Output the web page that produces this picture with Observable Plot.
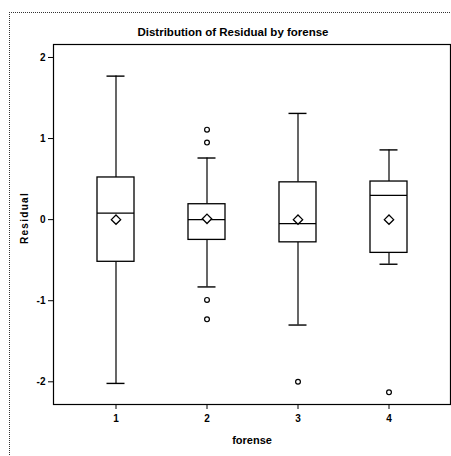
<!DOCTYPE html>
<html>
<head>
<meta charset="utf-8">
<script src="https://cdn.jsdelivr.net/npm/d3@7"></script>
<script src="https://cdn.jsdelivr.net/npm/@observablehq/plot@0.6"></script>
<style>
  html, body { margin: 0; padding: 0; background: #fff; }
  #wrap { position: relative; width: 451px; height: 456px; overflow: hidden; background: #fff;
          font-family: "Liberation Sans", Arial, sans-serif; color: #000; }
  #frame { position: absolute; left: 9px; top: 12px; width: 460px; height: 460px;
           border-top: 1px dotted #333; border-left: 1px dotted #333; }
  .lbl { position: absolute; font-weight: bold; white-space: nowrap; transform: translate(-50%, -50%); }
  #plot { position: absolute; left: 0; top: 0; }
</style>
</head>
<body>
<div id="wrap">
  <div id="frame"></div>
  <div id="plot"></div>
  <div class="lbl" style="left:233px; top:32px; font-size:11.5px;">Distribution of Residual by forense</div>
  <div class="lbl" style="left:23.5px; top:218px; font-size:10px; letter-spacing:1.3px; transform: translate(-50%,-50%) rotate(-90deg);">Residual</div>
  <div class="lbl" style="left:252px; top:440px; font-size:11px;">forense</div>
</div>
<script>
// Categories
const forense = [1, 2, 3, 4];
// Box statistics per category
const q1 = [-0.52, -0.25, -0.28, -0.41];
const median = [0.08, 0.00, -0.05, 0.30];
const q3 = [0.52, 0.19, 0.46, 0.47];
const whiskerLow = [-2.02, -0.83, -1.30, -0.55];
const whiskerHigh = [1.77, 0.76, 1.31, 0.86];
const mean = [0.00, 0.01, 0.00, 0.00];
// Outliers
const outlierGroup = [2, 2, 2, 2, 3, 4];
const outlierValue = [1.11, 0.95, -0.99, -1.23, -2.00, -2.13];
// Tick labels
const yTicks = [2, 1, 0, -1, -2];
const yTickLabels = ["2", "1", "0", "-1", "-2"];
const xTickLabels = ["1", "2", "3", "4"];

const boxes = forense.map((f, i) => ({
  f, q1: q1[i], med: median[i], q3: q3[i], lo: whiskerLow[i], hi: whiskerHigh[i], mean: mean[i]
}));
const outliers = outlierGroup.map((f, i) => ({f, v: outlierValue[i]}));

const chart = Plot.plot({
  width: 451,
  height: 456,
  marginTop: 44,
  marginBottom: 52,
  marginLeft: 53,
  marginRight: 1,
  style: { background: "transparent", fontFamily: "Liberation Sans, Arial, sans-serif", fontWeight: "bold", color: "#000" },
  x: { type: "band", domain: forense, paddingInner: 0.595, paddingOuter: 0.472, align: 0.51 },
  y: { domain: [-2.28, 2.16] },
  marks: [
    Plot.ruleX(boxes, {x: "f", y1: "lo", y2: "q1", stroke: "#000", strokeWidth: 1.2}),
    Plot.ruleX(boxes, {x: "f", y1: "q3", y2: "hi", stroke: "#000", strokeWidth: 1.2}),
    Plot.tickY(boxes, {x: "f", y: "lo", stroke: "#000", strokeWidth: 1.4, insetLeft: 9.5, insetRight: 9.5}),
    Plot.tickY(boxes, {x: "f", y: "hi", stroke: "#000", strokeWidth: 1.4, insetLeft: 9.5, insetRight: 9.5}),
    Plot.barY(boxes, {x: "f", y1: "q1", y2: "q3", fill: "#fff", stroke: "#000", strokeWidth: 1.3}),
    Plot.tickY(boxes, {x: "f", y: "med", stroke: "#000", strokeWidth: 1.3}),
    Plot.dot(boxes, {x: "f", y: "mean", symbol: "diamond2", r: 4.2, fill: "#fff", stroke: "#000", strokeWidth: 1.3}),
    Plot.dot(outliers, {x: "f", y: "v", symbol: "circle", r: 2.4, fill: "#fff", stroke: "#000", strokeWidth: 1.2}),
    Plot.frame({stroke: "#000", strokeWidth: 1.2}),
    Plot.axisY({ticks: yTicks, tickFormat: (d) => yTickLabels[yTicks.indexOf(d)], tickSize: 5, tickPadding: 3,
                fontSize: 10, label: null, stroke: "#000"}),
    Plot.axisX({tickFormat: (d) => xTickLabels[forense.indexOf(d)], tickSize: 5, tickPadding: 5,
                fontSize: 10, label: null, stroke: "#000"})
  ]
});
document.getElementById("plot").appendChild(chart);
</script>
</body>
</html>
